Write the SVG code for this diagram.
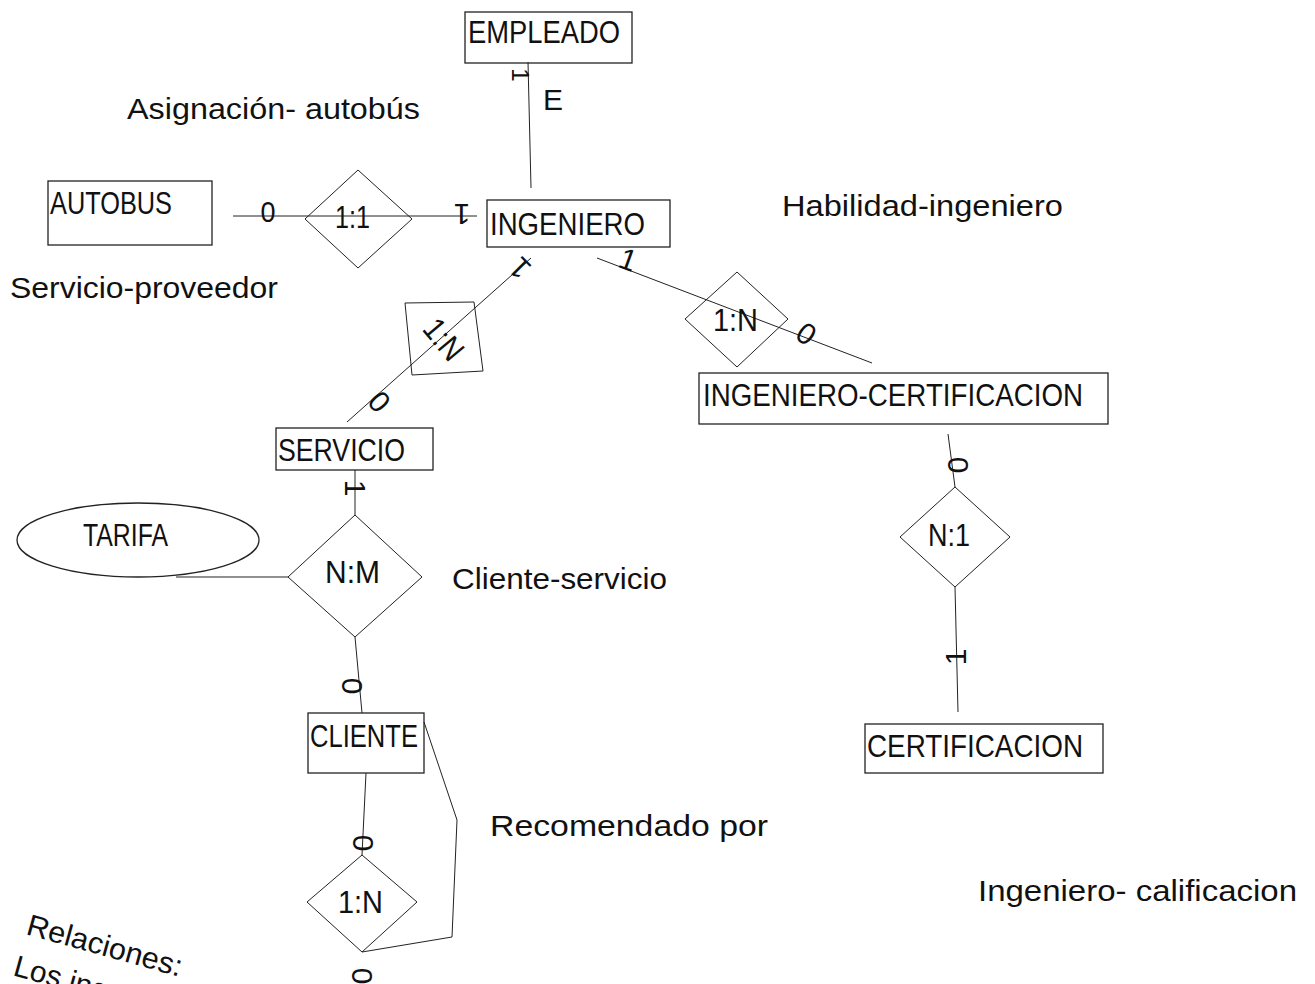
<svg xmlns="http://www.w3.org/2000/svg" width="1315" height="984" viewBox="0 0 1315 984">
<style>
.ent{fill:none;stroke:#222;stroke-width:1.3}
.rel{fill:none;stroke:#222;stroke-width:1}
.t{font-family:"Liberation Sans",Arial,sans-serif;font-size:32px;fill:#111}
.lab{font-family:"Liberation Sans",Arial,sans-serif;font-size:29px;fill:#111}
.mk{font-family:"Liberation Sans",Arial,sans-serif;font-size:30px;fill:#111;text-anchor:middle}
.c{stroke:#222;stroke-width:1;fill:none}
</style>
<rect width="1315" height="984" fill="#fff"/>
<g id="connectors">
<line class="c" x1="528" y1="62" x2="531" y2="188"/>
<line class="c" x1="233" y1="216" x2="477" y2="216"/>
<line class="c" x1="531" y1="258" x2="347" y2="422"/>
<line class="c" x1="597" y1="258" x2="872" y2="363"/>
<line class="c" x1="948" y1="434" x2="955" y2="487"/>
<line class="c" x1="955" y1="587" x2="958" y2="712"/>
<line class="c" x1="355" y1="470" x2="355" y2="515"/>
<line class="c" x1="176" y1="577" x2="288" y2="577"/>
<line class="c" x1="355" y1="637" x2="362" y2="713"/>
<line class="c" x1="366" y1="773" x2="362" y2="855"/>
<polyline class="c" points="424,722 457,820 452,937 362,952"/>
<text class="mk" transform="translate(521,75) rotate(90)" y="9" style="font-size:24px">1</text>
<text class="mk" x="268" y="222" textLength="15" lengthAdjust="spacingAndGlyphs">0</text>
<text class="mk" transform="translate(462,214) rotate(180)" y="10">1</text>
<text class="mk" transform="translate(520,268) rotate(225)" y="10">1</text>
<text class="mk" transform="translate(379,402) rotate(48)" y="10">0</text>
<text class="mk" transform="translate(628,260) rotate(20)" y="10">1</text>
<text class="mk" transform="translate(806,334) rotate(35)" y="10">0</text>
<text class="mk" transform="translate(958,465) rotate(90)" y="10">0</text>
<text class="mk" transform="translate(956,657) rotate(-90)" y="10">1</text>
<text class="mk" transform="translate(355,488) rotate(90)" y="10">1</text>
<text class="mk" transform="translate(352,686) rotate(90)" y="10">0</text>
<text class="mk" transform="translate(363,843) rotate(90)" y="10">0</text>
<text class="mk" transform="translate(362,976) rotate(90)" y="10">0</text>
</g>
<g id="empleado"><rect class="ent" x="465" y="12" width="167" height="51"/><text class="t" x="468" y="43" textLength="152" lengthAdjust="spacingAndGlyphs">EMPLEADO</text></g>
<g id="e-label"><text class="lab" x="543" y="110" style="font-size:30px">E</text></g>
<g id="autobus"><rect class="ent" x="48" y="181" width="164" height="64"/><text class="t" x="50" y="214" textLength="122" lengthAdjust="spacingAndGlyphs">AUTOBUS</text></g>
<g id="rel-1-1"><polygon class="rel" points="358,170 412,219 358,268 305,219"/><text class="t" x="335" y="228" textLength="35" lengthAdjust="spacingAndGlyphs">1:1</text></g>
<g id="ingeniero"><rect class="ent" x="487" y="200" width="183" height="47"/><text class="t" x="490" y="235" textLength="155" lengthAdjust="spacingAndGlyphs">INGENIERO</text></g>
<g id="rel-1-n-servicio"><polygon class="rel" points="405,303 474,302 483,371 412,375"/><text class="t" transform="translate(443,340) rotate(50)" x="-22" y="10" textLength="44" lengthAdjust="spacingAndGlyphs">1:N</text></g>
<g id="servicio"><rect class="ent" x="276" y="428" width="157" height="42"/><text class="t" x="278" y="461" textLength="127" lengthAdjust="spacingAndGlyphs">SERVICIO</text></g>
<g id="tarifa"><ellipse class="ent" cx="138" cy="540" rx="121" ry="37"/><text class="t" x="83" y="546" textLength="85" lengthAdjust="spacingAndGlyphs">TARIFA</text></g>
<g id="rel-n-m"><polygon class="rel" points="355,515 422,577 355,637 288,577"/><text class="t" x="325" y="583" textLength="55" lengthAdjust="spacingAndGlyphs">N:M</text></g>
<g id="cliente"><rect class="ent" x="308" y="713" width="116" height="60"/><text class="t" x="310" y="747" textLength="108" lengthAdjust="spacingAndGlyphs">CLIENTE</text></g>
<g id="rel-1-n-cliente"><polygon class="rel" points="362,855 417,902 362,952 307,902"/><text class="t" x="338" y="913" textLength="45" lengthAdjust="spacingAndGlyphs">1:N</text></g>
<g id="rel-1-n-cert"><polygon class="rel" points="737,272 788,319 737,367 685,319"/><text class="t" x="713" y="331" textLength="45" lengthAdjust="spacingAndGlyphs">1:N</text></g>
<g id="ingeniero-certificacion"><rect class="ent" x="699" y="373" width="409" height="51"/><text class="t" x="703" y="406" textLength="380" lengthAdjust="spacingAndGlyphs">INGENIERO-CERTIFICACION</text></g>
<g id="rel-n-1"><polygon class="rel" points="955,487 1010,537 955,587 900,537"/><text class="t" x="928" y="546" textLength="42" lengthAdjust="spacingAndGlyphs">N:1</text></g>
<g id="certificacion"><rect class="ent" x="865" y="724" width="238" height="49"/><text class="t" x="867" y="757" textLength="216" lengthAdjust="spacingAndGlyphs">CERTIFICACION</text></g>
<g id="labels">
<text class="lab" x="127" y="119" textLength="293" lengthAdjust="spacingAndGlyphs">Asignación- autobús</text>
<text class="lab" x="782" y="216" textLength="281" lengthAdjust="spacingAndGlyphs">Habilidad-ingeniero</text>
<text class="lab" x="10" y="298" textLength="268" lengthAdjust="spacingAndGlyphs">Servicio-proveedor</text>
<text class="lab" x="452" y="589" textLength="215" lengthAdjust="spacingAndGlyphs">Cliente-servicio</text>
<text class="lab" x="490" y="836" textLength="278" lengthAdjust="spacingAndGlyphs">Recomendado por</text>
<text class="lab" x="978" y="901" textLength="319" lengthAdjust="spacingAndGlyphs">Ingeniero- calificacion</text>
<text class="lab" transform="translate(25,934) rotate(15.5)" style="font-size:30px" textLength="160" lengthAdjust="spacingAndGlyphs">Relaciones:</text>
<text class="lab" transform="translate(12,975) rotate(15.5)" style="font-size:30px">Los ing</text>
</g>
</svg>
